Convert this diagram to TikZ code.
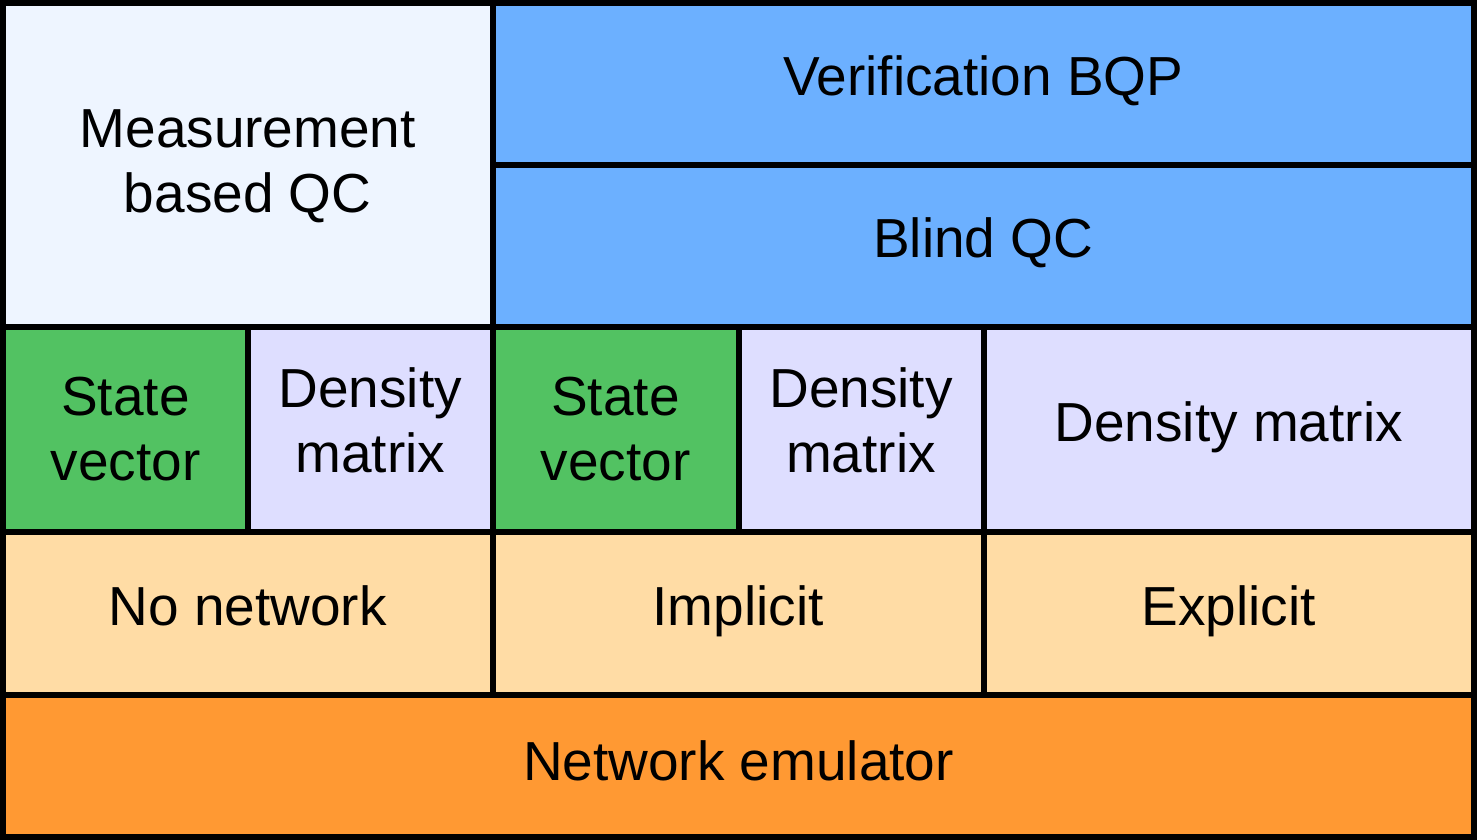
\documentclass[tikz,border=0pt]{standalone}
\usepackage{fontspec}
\setmainfont{Liberation Sans}
\definecolor{cLightBlue}{HTML}{EEF5FF}
\definecolor{cBlue}{HTML}{6CB0FF}
\definecolor{cGreen}{HTML}{52C262}
\definecolor{cLav}{HTML}{DEDEFF}
\definecolor{cLightOr}{HTML}{FFDCA5}
\definecolor{cOrange}{HTML}{FF9933}
\tikzset{
  cell/.style={draw=black, line width=6pt, rectangle, inner sep=0pt, outer sep=0pt,
    anchor=north west, align=center, font=\fontsize{55}{64.5}\selectfont, text=black,
    text height=40pt, text depth=16pt},
  lbl/.style={anchor=center, align=center, inner sep=0pt, font=\fontsize{55}{64.5}\selectfont,
    text=black, text height=40pt, text depth=16pt}
}
\begin{document}
\begin{tikzpicture}[x=1pt,y=-1pt]
\fill[black] (0,0) rectangle (1477,840);
\useasboundingbox (0,0) rectangle (1477,840);
% row 1
\node[cell, fill=cLightBlue, minimum width=489.5pt, minimum height=323.5pt] (mbqc) at (3,3) {};
\node[lbl, yshift=-35.25pt] (mbqct) at (mbqc.center) {Measurement\\based QC};
\node[cell, fill=cBlue, minimum width=981.5pt, minimum height=161.5pt] (verif) at (492.5,3) {Verification BQP};
\node[cell, fill=cBlue, minimum width=981.5pt, minimum height=162pt] (blind) at (492.5,164.5) {Blind QC};
% row 2
\node[cell, fill=cGreen, minimum width=245pt, minimum height=205.5pt] (sv1) at (3,326.5) {};
\node[lbl, yshift=-38.75pt] (sv1t) at (sv1.center) {State\\vector};
\node[cell, fill=cLav, minimum width=244.5pt, minimum height=205.5pt] (dm1) at (248,326.5) {};
\node[lbl, yshift=-30.75pt] (dm1t) at (dm1.center) {Density\\matrix};
\node[cell, fill=cGreen, minimum width=246pt, minimum height=205.5pt] (sv2) at (492.5,326.5) {};
\node[lbl, yshift=-38.75pt] (sv2t) at (sv2.center) {State\\vector};
\node[cell, fill=cLav, minimum width=245pt, minimum height=205.5pt] (dm2) at (738.5,326.5) {};
\node[lbl, yshift=-30.75pt] (dm2t) at (dm2.center) {Density\\matrix};
\node[cell, fill=cLav, minimum width=490.5pt, minimum height=205.5pt] (dm3) at (983.5,326.5) {Density matrix};
% row 3
\node[cell, fill=cLightOr, minimum width=489.5pt, minimum height=163pt] (nonet) at (3,532) {No network};
\node[cell, fill=cLightOr, minimum width=491pt, minimum height=163pt] (impl) at (492.5,532) {Implicit};
\node[cell, fill=cLightOr, minimum width=490.5pt, minimum height=163pt] (expl) at (983.5,532) {Explicit};
% row 4
\node[cell, fill=cOrange, minimum width=1471pt, minimum height=142pt] (emu) at (3,695) {};
\node[lbl, yshift=-2pt] (emut) at (emu.center) {Network emulator};
\end{tikzpicture}
\end{document}
